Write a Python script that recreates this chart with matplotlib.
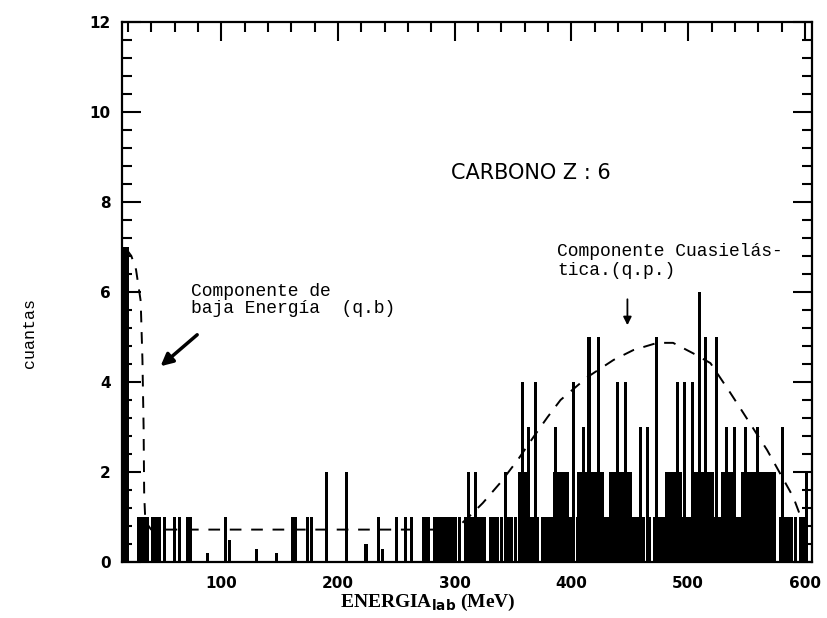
import numpy as np
import matplotlib.pyplot as plt
from matplotlib.ticker import MultipleLocator

# espectro de energia - carbono Z=6
# picos aislados: energia (MeV) y cuentas
pico_e = [51, 60, 64, 71, 74, 88, 103.5, 107, 130, 147, 161, 164, 173.5, 177, 190, 207,
          224, 235, 238, 250, 258, 263,
          298, 301, 304, 331, 334, 337, 340, 346, 349, 352, 458, 462, 467,
          585, 588, 592, 596, 599,
          312, 318, 343.6, 358, 363, 369, 386, 402, 410, 415, 423, 439, 446, 459, 465,
          472.6, 490.6, 497, 504, 509.5, 515, 524, 533, 540, 549, 559, 581, 601.5]
pico_n = [1, 1, 1, 1, 1, 0.2, 1, 0.5, 0.3, 0.2, 1, 1, 1, 1, 2, 2,
          0.4, 1, 0.3, 1, 1, 1,
          1, 1, 1, 1, 1, 1, 1, 1, 1, 1, 1, 1, 1,
          1, 1, 1, 1, 1,
          2, 2, 2, 4, 3, 4, 3, 4, 3, 5, 5, 4, 4, 3, 3,
          5, 4, 4, 4, 6, 5, 5, 3, 3, 3, 3, 3, 2]

# bloques de canales contiguos: inicio, fin (MeV), cuentas
bloque_ini = [16, 28, 40, 272, 281, 308, 330, 354, 374, 389, 404, 419, 435, 446, 470, 490,
              514, 556, 578,
              354, 384, 405, 432, 480, 502, 528, 545, 560]
bloque_fin = [21, 38, 48, 279, 297, 327, 336, 372, 387, 403, 417, 433, 444, 457, 486, 511,
              554, 575, 584,
              364, 398, 428, 452, 495, 522, 540, 558, 575]
bloque_n = [7, 1, 1, 1, 1, 1, 1, 1, 1, 1, 1, 1, 1, 1, 1, 1,
            1, 1, 1,
            2, 2, 2, 2, 2, 2, 2, 2, 2]

# componentes (q.b) y (q.p.), trazo discontinuo
curva_e = [18.8, 23, 27, 31, 32.5, 33.5, 34, 35, 40, 100, 200, 300, 312, 324, 339, 354,
           367.5, 379.5, 390.6, 413.7, 436, 453, 473.5, 487, 504, 519, 536, 544, 567.5, 590, 600]
curva_n = [6.95, 6.8, 6.5, 5.8, 4.5, 3.0, 1.5, 0.9, 0.72, 0.72, 0.72, 0.72, 1.0, 1.31, 1.76, 2.27,
           2.78, 3.22, 3.6, 4.11, 4.49, 4.71, 4.87, 4.87, 4.64, 4.42, 3.76, 3.44, 2.49, 1.44, 0.75]

fig = plt.figure(figsize=(8.28, 6.18), dpi=100)
ax = fig.add_axes([122 / 828, 1 - 562 / 618, 690 / 828, 540 / 618])

ax.bar(pico_e, pico_n, width=2.6, color="black", linewidth=0)
ax.bar(bloque_ini, bloque_n, width=np.array(bloque_fin) - np.array(bloque_ini),
       align="edge", color="black", linewidth=0)
ax.plot(curva_e, curva_n, color="black", lw=1.4, dashes=(6, 5))

ax.set_xlim(15, 606)
ax.set_ylim(0, 12)
ax.xaxis.set_major_locator(MultipleLocator(100))
ax.xaxis.set_minor_locator(MultipleLocator(20))
ax.yaxis.set_major_locator(MultipleLocator(2))
ax.yaxis.set_minor_locator(MultipleLocator(0.4))
ax.tick_params(which="both", direction="in", top=True, right=True, width=1.5, colors="black")
ax.tick_params(which="major", length=14)
ax.tick_params(which="minor", length=7)
ax.tick_params(axis="x", which="both", bottom=False, pad=10)
ax.tick_params(axis="y", pad=8)
for lab in ax.get_xticklabels() + ax.get_yticklabels():
    lab.set_fontweight("bold")
    lab.set_fontsize(11)
for s in ax.spines.values():
    s.set_linewidth(1.6)

mono = "Liberation Mono"
ax.text(296.6, 8.64, "CARBONO Z : 6", fontsize=15, family="DejaVu Sans", va="center", ha="left")
ax.text(74.4, 5.82, "Componente de\nbaja Energía  (q.b)", fontsize=13, family=mono,
        va="center", ha="left", linespacing=1.05)
ax.annotate("", xy=(46.2, 4.31), xytext=(81.2, 5.09),
            arrowprops=dict(arrowstyle="-|>", lw=2.5, color="black", mutation_scale=18))
ax.text(388, 6.69, "Componente Cuasielás-\ntica.(q.p.)", fontsize=13, family=mono,
        va="center", ha="left", linespacing=1.1)
ax.annotate("", xy=(447.9, 5.2), xytext=(447.9, 5.9),
            arrowprops=dict(arrowstyle="-|>", lw=1.3, color="black", mutation_scale=12))

fig.text(30 / 828, 1 - 333 / 618, "cuantas", rotation=90, fontsize=12, family=mono,
         ha="center", va="center")
fig.text(428 / 828, 1 - 602 / 618, r"ENERGIA$_{\mathbf{lab}}$ (MeV)", fontsize=14,
         family="Liberation Serif", fontweight="bold", ha="center", va="center")

fig.savefig("out.png", dpi=100)
